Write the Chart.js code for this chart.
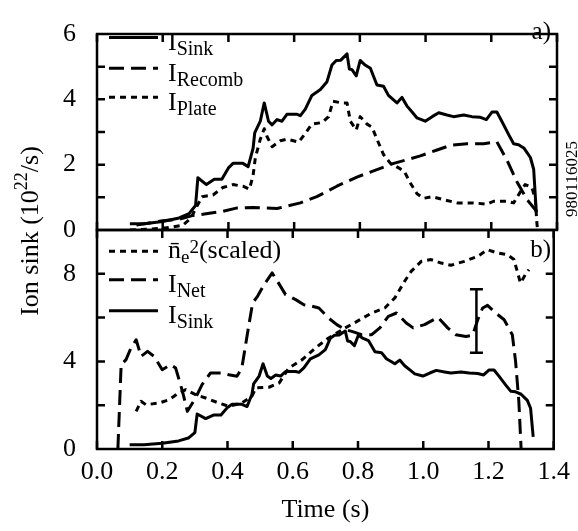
<!DOCTYPE html>
<html><head><meta charset="utf-8">
<script src="https://cdn.jsdelivr.net/npm/chart.js@4.4.1/dist/chart.umd.min.js"></script>
<style>
html,body{margin:0;padding:0;background:#fff;}
#wrap{position:relative;width:578px;height:531px;overflow:hidden;}
canvas{position:absolute;left:0;top:0;}
</style></head><body>
<div id="wrap"><canvas id="cBot" width="578" height="531"></canvas><canvas id="cTop" width="578" height="531"></canvas></div>
<script>
// ---------- axis ticks ----------
const xTicks = [0, 0.2, 0.4, 0.6, 0.8, 1.0, 1.2, 1.4];
const xTickLabels = ['0.0', '0.2', '0.4', '0.6', '0.8', '1.0', '1.2', '1.4'];
const topYTicks = [0, 2, 4, 6];
const topYMinor = [1, 2, 3, 4, 5];
const botYTicks = [0, 4, 8];
const botYMinor = [2, 4, 6, 8];

// ---------- panel a) ----------
const sinkTime = [0.10,0.144,0.20,0.25,0.28,0.30,0.307,0.333,0.357,0.38,0.40,0.414,0.444,0.46,0.475,0.48,0.497,0.509,0.522,0.533,0.548,0.563,0.578,0.609,0.619,0.634,0.654,0.68,0.70,0.715,0.728,0.742,0.761,0.768,0.776,0.789,0.801,0.816,0.832,0.852,0.872,0.887,0.913,0.928,0.943,0.959,0.974,0.999,1.02,1.04,1.065,1.085,1.116,1.141,1.167,1.185,1.202,1.217,1.232,1.253,1.268,1.283,1.30,1.319,1.329,1.337];
const sinkVal  = [0.19,0.19,0.26,0.37,0.50,0.75,1.60,1.39,1.55,1.55,1.90,2.04,2.04,1.94,2.50,2.97,3.33,3.89,3.33,3.22,3.38,3.33,3.54,3.54,3.50,3.70,4.12,4.30,4.54,5.05,5.19,5.20,5.39,4.93,4.91,4.72,5.19,5.05,4.95,4.44,4.40,4.12,3.89,4.06,3.80,3.61,3.43,3.33,3.47,3.59,3.52,3.47,3.52,3.47,3.45,3.38,3.61,3.61,3.33,2.92,2.64,2.61,2.50,2.22,1.86,0.55];

const recombTime = [0.12,0.20,0.25,0.29,0.342,0.383,0.424,0.475,0.548,0.619,0.669,0.73,0.791,0.852,0.903,0.943,0.984,1.035,1.075,1.126,1.177,1.217,1.248,1.278,1.309,1.339];
const recombVal  = [0.15,0.28,0.33,0.44,0.51,0.57,0.67,0.69,0.66,0.83,1.02,1.34,1.62,1.85,2.04,2.15,2.27,2.45,2.59,2.64,2.64,2.70,2.13,1.48,0.93,0.56];

const plateTime = [0.10,0.20,0.26,0.285,0.30,0.32,0.353,0.383,0.414,0.444,0.464,0.475,0.482,0.497,0.509,0.517,0.533,0.558,0.578,0.614,0.634,0.654,0.685,0.705,0.718,0.746,0.761,0.771,0.789,0.801,0.822,0.837,0.852,0.872,0.893,0.918,0.935,0.953,0.974,0.994,1.02,1.055,1.096,1.146,1.187,1.207,1.248,1.268,1.288,1.303,1.324,1.334,1.339,1.341];
const plateVal  = [0.00,0.05,0.14,0.35,0.65,1.02,1.07,1.30,1.39,1.34,1.25,1.67,2.22,2.78,3.10,2.87,2.55,2.73,2.78,2.69,2.96,3.24,3.29,3.47,3.94,3.89,3.89,3.33,3.06,3.47,3.24,3.15,2.78,2.31,2.04,1.90,1.80,1.45,1.11,0.97,1.02,0.93,0.83,0.83,0.79,0.88,0.88,0.83,1.16,1.39,1.30,0.93,0.19,0.00];

// ---------- panel b) ----------
const neTime = [0.12,0.135,0.15,0.19,0.221,0.251,0.272,0.302,0.333,0.373,0.404,0.444,0.475,0.487,0.527,0.558,0.588,0.629,0.669,0.71,0.761,0.801,0.842,0.882,0.913,0.943,0.963,0.994,1.024,1.055,1.085,1.126,1.167,1.197,1.227,1.258,1.278,1.298,1.313,1.324];
const neVal  = [1.72,2.18,2.02,2.10,2.25,2.56,2.71,2.48,2.33,2.10,1.95,2.10,2.41,2.79,2.82,3.01,3.70,4.08,4.61,5.07,5.53,5.86,6.21,6.44,6.90,7.66,8.11,8.57,8.65,8.49,8.39,8.57,8.80,9.10,8.95,8.87,8.65,7.58,7.96,8.19];

const netTime = [0.064,0.074,0.089,0.104,0.12,0.135,0.155,0.175,0.20,0.226,0.241,0.262,0.277,0.302,0.322,0.348,0.383,0.404,0.429,0.444,0.464,0.477,0.492,0.512,0.537,0.553,0.578,0.609,0.634,0.659,0.68,0.71,0.735,0.761,0.781,0.811,0.842,0.867,0.893,0.918,0.948,0.969,1.004,1.045,1.075,1.10,1.131,1.151,1.167,1.182,1.197,1.222,1.248,1.273,1.283,1.293,1.30];
const netVal  = [0.00,3.85,4.08,4.61,4.99,4.23,4.46,4.23,3.62,3.85,3.70,2.63,1.72,2.33,2.94,3.47,3.47,3.39,3.32,3.70,5.53,6.67,6.97,7.50,8.04,7.66,7.05,6.82,6.59,6.52,6.44,5.98,5.68,5.45,5.37,5.22,5.22,5.53,6.06,6.21,5.75,5.53,5.68,6.01,5.53,5.22,5.14,5.19,5.90,6.44,6.56,6.21,5.90,5.22,4.00,2.18,0.00];

const errTime = [1.163, 1.163];
const errVal  = [4.4, 7.3];

// ---------- helpers ----------
const FONT = '"Liberation Serif", "Times New Roman", serif';
const DASH = [15, 7];
const DOT = [6, 5];
function series(t, v) { return t.map((x, i) => ({ x: x, y: v[i] })); }

function richText(ctx, x, y, parts, align) {
  let w = 0;
  parts.forEach(p => { ctx.font = p.size + 'px ' + FONT; p.w = ctx.measureText(p.t).width; w += p.w; });
  let cx = align === 'center' ? x - w / 2 : (align === 'right' ? x - w : x);
  ctx.textAlign = 'left'; ctx.textBaseline = 'alphabetic';
  parts.forEach(p => { ctx.font = p.size + 'px ' + FONT; ctx.fillText(p.t, cx, y + (p.dy || 0)); cx += p.w; });
}

function makeDecor(minor, legendRows, panelLabel, extra) {
  return {
    id: 'decor',
    afterDatasetsDraw(chart) {
      const ctx = chart.ctx, a = chart.chartArea, sx = chart.scales.x, sy = chart.scales.y;
      ctx.save();
      ctx.strokeStyle = '#000'; ctx.fillStyle = '#000'; ctx.lineWidth = 2.5; ctx.setLineDash([]);
      ctx.strokeRect(a.left, a.top, a.right - a.left, a.bottom - a.top);
      const TL = 8;
      ctx.beginPath();
      xTicks.forEach(v => {
        const px = sx.getPixelForValue(v);
        ctx.moveTo(px, a.top); ctx.lineTo(px, a.top + TL);
        ctx.moveTo(px, a.bottom); ctx.lineTo(px, a.bottom - TL);
      });
      minor.forEach(v => {
        const py = sy.getPixelForValue(v);
        ctx.moveTo(a.left, py); ctx.lineTo(a.left + TL, py);
        ctx.moveTo(a.right, py); ctx.lineTo(a.right - TL, py);
      });
      ctx.stroke();
      // legend
      legendRows.forEach(r => {
        ctx.beginPath();
        ctx.lineWidth = 3; ctx.setLineDash(r.dash); ctx.lineCap = 'butt';
        ctx.moveTo(109, r.y); ctx.lineTo(158, r.y); ctx.stroke();
        ctx.setLineDash([]);
        richText(ctx, 168, r.base, r.parts, 'left');
      });
      richText(ctx, 551, panelLabel.y, [{ t: panelLabel.t, size: 25 }], 'right');
      if (extra) extra(ctx);
      ctx.restore();
    }
  };
}

function makeOptions(yMin, yMax, yTicks, showX, padding) {
  return {
    responsive: false, animation: false, devicePixelRatio: 1,
    layout: { padding: padding },
    plugins: { legend: { display: false }, tooltip: { enabled: false } },
    elements: { point: { radius: 0 }, line: { tension: 0, borderJoinStyle: 'round' } },
    scales: {
      x: {
        type: 'linear', min: 0, max: 1.4, display: showX,
        grid: { display: false, drawTicks: false }, border: { display: false },
        afterBuildTicks: s => { s.ticks = xTicks.map(v => ({ value: v })); },
        afterFit: s => { s.height = showX ? 82 : 0; },
        ticks: {
          padding: 8, color: '#000', font: { family: FONT, size: 26, lineHeight: 1.2 }, maxRotation: 0, autoSkip: false,
          callback: v => { const i = xTicks.findIndex(t => Math.abs(t - v) < 1e-6); return i >= 0 ? xTickLabels[i] : ''; }
        },
        title: { display: showX, text: 'Time (s)', color: '#000', font: { family: FONT, size: 26, lineHeight: 1.2 }, padding: { top: 0, bottom: 5 } }
      },
      y: {
        type: 'linear', min: yMin, max: yMax,
        grid: { display: false, drawTicks: false }, border: { display: false },
        afterBuildTicks: s => { s.ticks = yTicks.map(v => ({ value: v })); },
        afterFit: s => { s.width = 97; },
        ticks: { padding: 21, color: '#000', font: { family: FONT, size: 26, lineHeight: 1 }, callback: v => String(v) }
      }
    }
  };
}

function lineDs(data, dash, width) {
  return { data: data, borderColor: '#000', borderWidth: width || 3, borderDash: dash, pointRadius: 0, fill: false, borderCapStyle: 'butt' };
}

// ---------- bottom panel b) ----------
new Chart(document.getElementById('cBot'), {
  type: 'line',
  data: {
    datasets: [
      lineDs(series(neTime, neVal), DOT),
      lineDs(series(netTime, netVal), DASH),
      lineDs(series(sinkTime, sinkVal), []),
      { data: series(errTime, errVal), borderColor: '#000', borderWidth: 2.5, pointStyle: 'line', pointRadius: 6.5, pointBorderWidth: 2.5, pointBorderColor: '#000', fill: false }
    ]
  },
  options: makeOptions(0, 10, botYTicks, true, { top: 230, right: 21, bottom: 0, left: 0 }),
  plugins: [makeDecor(botYMinor, [
    { y: 251.3, base: 258, dash: DOT, parts: [{ t: 'n\u0304', size: 26 }, { t: 'e', size: 19, dy: 5 }, { t: '2', size: 19, dy: -5 }, { t: '(scaled)', size: 26 }] },
    { y: 279.7, base: 292, dash: DASH, parts: [{ t: 'I', size: 26 }, { t: 'Net', size: 20, dy: 5 }] },
    { y: 310.7, base: 323, dash: [], parts: [{ t: 'I', size: 26 }, { t: 'Sink', size: 20, dy: 5 }] }
  ], { t: 'b)', y: 257 }, function (ctx) {
    // y-axis title spanning both panels
    ctx.save();
    ctx.translate(38, 231);
    ctx.rotate(-Math.PI / 2);
    richText(ctx, 0, 0, [{ t: 'Ion sink (10', size: 26 }, { t: '22', size: 18, dy: -11 }, { t: '/s)', size: 26 }], 'center');
    ctx.restore();
  })]
});

// ---------- top panel a) ----------
new Chart(document.getElementById('cTop'), {
  type: 'line',
  data: {
    datasets: [
      lineDs(series(sinkTime, sinkVal), []),
      lineDs(series(recombTime, recombVal), DASH),
      lineDs(series(plateTime, plateVal), DOT)
    ]
  },
  options: makeOptions(0, 6, topYTicks, false, { top: 14, right: 21, bottom: 301, left: 0 }),
  plugins: [makeDecor(topYMinor, [
    { y: 37.5, base: 50, dash: [], parts: [{ t: 'I', size: 26 }, { t: 'Sink', size: 20, dy: 5 }] },
    { y: 68.3, base: 81, dash: DASH, parts: [{ t: 'I', size: 26 }, { t: 'Recomb', size: 20, dy: 5 }] },
    { y: 97.3, base: 110, dash: DOT, parts: [{ t: 'I', size: 26 }, { t: 'Plate', size: 20, dy: 5 }] }
  ], { t: 'a)', y: 39 }, function (ctx) {
    ctx.save();
    ctx.translate(577, 179);
    ctx.rotate(-Math.PI / 2);
    richText(ctx, 0, 0, [{ t: '980116025', size: 17 }], 'center');
    ctx.restore();
  })]
});
</script>
</body></html>
